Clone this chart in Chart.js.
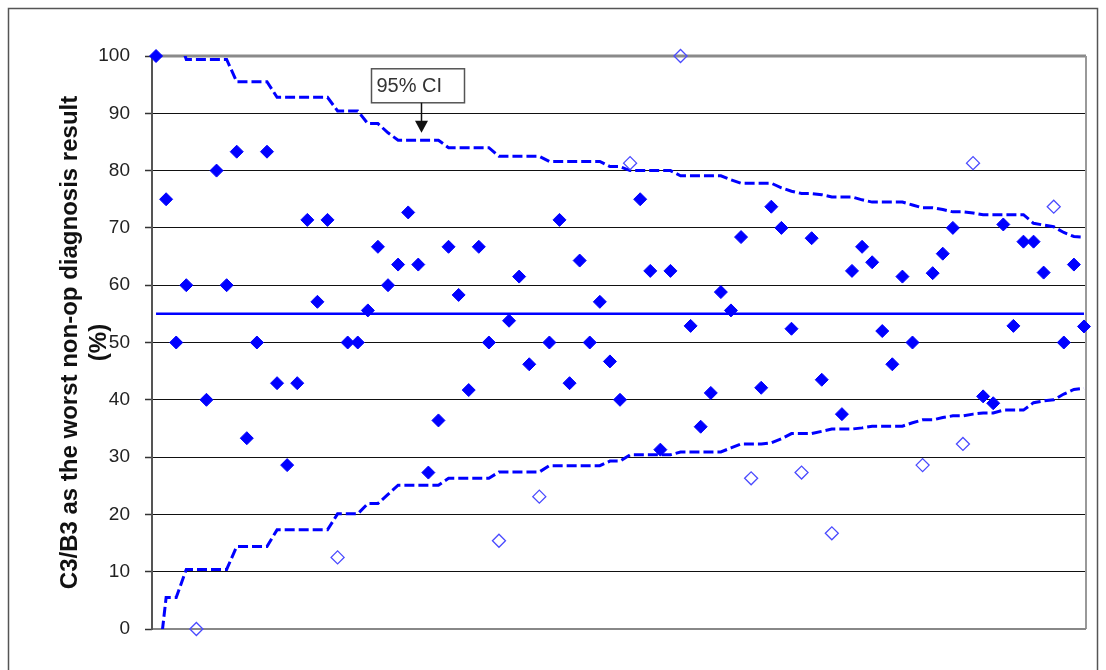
<!DOCTYPE html>
<html><head><meta charset="utf-8">
<script src="https://cdn.jsdelivr.net/npm/chart.js@4.4.1/dist/chart.umd.min.js"></script>
<style>html,body{margin:0;padding:0;background:#fff;} canvas{display:block;}</style>
</head><body>
<canvas id="c" width="1106" height="670"></canvas>
<script>
// ---- data ----
const rates = [
  100, 75, 50, 60, 0, 40, 80, 60, 83.3, 33.3,
  50, 83.3, 42.9, 28.6, 42.9, 71.4, 57.1, 71.4, 12.5, 50,
  50, 55.6, 66.7, 60, 63.6, 72.7, 63.6, 27.3, 36.4, 66.7,
  58.3, 41.7, 66.7, 50, 15.4, 53.8, 61.5, 46.2, 23.1, 50,
  71.4, 42.9, 64.3, 50, 57.1, 46.7, 40, 81.3, 75, 62.5,
  31.3, 62.5, 100, 52.9, 35.3, 41.2, 58.8, 55.6, 68.4, 26.3,
  42.1, 73.7, 70, 52.4, 27.3, 68.2, 43.5, 16.7, 37.5, 62.5,
  66.7, 64, 52, 46.2, 61.5, 50, 28.6, 62.1, 65.5, 70,
  32.3, 81.3, 40.6, 39.4, 70.6, 52.9, 67.6, 67.6, 62.2, 73.7,
  50, 63.6, 52.8
];
// indices of centres plotted as open diamonds (outside the 95% CI)
const outsideIdx = [4, 18, 34, 38, 47, 52, 59, 64, 67, 76, 80, 81, 89];
const upperCI = [
  120, 104.5, 104.5, 99.4, 99.4, 99.4, 99.4, 99.4, 95.5, 95.5,
  95.5, 95.5, 92.8, 92.8, 92.8, 92.8, 92.8, 92.8, 90.4, 90.4,
  90.4, 88.2, 88.2, 86.6, 85.3, 85.3, 85.3, 85.3, 85.3, 84.0,
  84.0, 84.0, 84.0, 84.0, 82.5, 82.5, 82.5, 82.5, 82.5, 81.6,
  81.6, 81.6, 81.6, 81.6, 81.6, 80.7, 80.7, 80.0, 80.0, 80.0,
  80.0, 80.0, 79.1, 79.1, 79.1, 79.1, 79.1, 78.4, 77.8, 77.8,
  77.8, 77.8, 77.0, 76.4, 76.0, 76.0, 75.8, 75.4, 75.4, 75.4,
  74.9, 74.5, 74.5, 74.5, 74.5, 74.0, 73.5, 73.5, 73.2, 72.8,
  72.8, 72.6, 72.3, 72.3, 72.3, 72.3, 72.3, 70.8, 70.5, 70.2,
  69.2, 68.5, 68.4
];
const lowerCI = [
  -10, 5.5, 5.5, 10.4, 10.4, 10.4, 10.4, 10.4, 14.4, 14.4,
  14.4, 14.4, 17.3, 17.3, 17.3, 17.3, 17.3, 17.3, 20.1, 20.1,
  20.1, 21.9, 21.9, 23.5, 25.1, 25.1, 25.1, 25.1, 25.1, 26.3,
  26.3, 26.3, 26.3, 26.3, 27.4, 27.4, 27.4, 27.4, 27.4, 28.5,
  28.5, 28.5, 28.5, 28.5, 28.5, 29.3, 29.3, 30.4, 30.4, 30.4,
  30.4, 30.4, 30.9, 30.9, 30.9, 30.9, 30.9, 31.6, 32.3, 32.3,
  32.3, 32.5, 33.2, 34.1, 34.1, 34.1, 34.5, 34.9, 34.9, 34.9,
  35.1, 35.4, 35.4, 35.4, 35.4, 36.0, 36.5, 36.5, 36.9, 37.2,
  37.2, 37.5, 37.7, 37.7, 38.2, 38.2, 38.2, 39.5, 39.8, 40.0,
  41.0, 41.8, 42.0
];
const meanRate = 55;
const yTicks = [0, 10, 20, 30, 40, 50, 60, 70, 80, 90, 100];
const yTitle = ['C3/B3 as the worst non-op diagnosis result', '(%)'];
const ciLabel = { text: '95% CI', index: 26.3, value: 86.6 };

// ---- build datasets ----
const pts = rates.map((v, i) => ({ x: i, y: v }));
const insidePts = pts.filter((p, i) => !outsideIdx.includes(i));
const outsidePts = pts.filter((p, i) => outsideIdx.includes(i));
const upperPts = upperCI.map((v, i) => ({ x: i, y: v }));
const lowerPts = lowerCI.map((v, i) => ({ x: i, y: v }));
const meanPts = rates.map((v, i) => ({ x: i, y: meanRate }));

const FONT = "'Liberation Sans', Arial, Helvetica, sans-serif";
Chart.defaults.font.family = FONT;

const framePlugin = {
  id: 'frame',
  beforeDatasetsDraw(chart) {
    const { ctx, chartArea: a } = chart;
    ctx.save();
    ctx.lineCap = 'butt';
    ctx.strokeStyle = '#8a8a8a';
    ctx.lineWidth = 3;
    ctx.beginPath(); ctx.moveTo(a.left, a.top); ctx.lineTo(a.right, a.top); ctx.stroke();
    ctx.lineWidth = 2;
    ctx.strokeStyle = '#999';
    ctx.beginPath(); ctx.moveTo(a.right, a.top); ctx.lineTo(a.right, a.bottom); ctx.stroke();
    ctx.strokeStyle = '#888';
    ctx.beginPath(); ctx.moveTo(a.left, a.bottom); ctx.lineTo(a.right, a.bottom); ctx.stroke();
    ctx.strokeStyle = '#555';
    ctx.beginPath(); ctx.moveTo(a.left, a.top - 1); ctx.lineTo(a.left, a.bottom + 1); ctx.stroke();
    ctx.restore();
  },
  afterDraw(chart) {
    const { ctx } = chart;
    ctx.save();
    ctx.strokeStyle = '#555';
    ctx.lineWidth = 1.5;
    ctx.strokeRect(8.5, 8.5, 1089, 700);
    // 95% CI callout
    const xs = chart.scales.x, ys = chart.scales.y;
    const tipX = Math.round(xs.getPixelForValue(ciLabel.index)) + 0.5;
    const tipY = ys.getPixelForValue(ciLabel.value);
    const boxBottom = tipY - 30, boxH = 34, boxW = 93;
    const boxLeft = tipX - 50;
    ctx.fillStyle = '#fff';
    ctx.fillRect(boxLeft, boxBottom - boxH, boxW, boxH);
    ctx.strokeStyle = '#555';
    ctx.lineWidth = 1.5;
    ctx.strokeRect(boxLeft, boxBottom - boxH, boxW, boxH);
    ctx.fillStyle = '#333';
    ctx.font = "20px " + FONT;
    ctx.textBaseline = 'middle';
    ctx.textAlign = 'left';
    ctx.fillText(ciLabel.text, boxLeft + 5, boxBottom - boxH / 2 + 1);
    ctx.strokeStyle = '#111';
    ctx.lineWidth = 1.5;
    ctx.beginPath(); ctx.moveTo(tipX, boxBottom); ctx.lineTo(tipX, tipY - 11); ctx.stroke();
    ctx.fillStyle = '#111';
    ctx.beginPath();
    ctx.moveTo(tipX - 6.5, tipY - 12); ctx.lineTo(tipX + 6.5, tipY - 12); ctx.lineTo(tipX, tipY); ctx.closePath();
    ctx.fill();
    ctx.restore();
  }
};

new Chart(document.getElementById('c'), {
  type: 'line',
  data: {
    datasets: [
      { data: insidePts, showLine: false, pointStyle: 'rectRot', pointRadius: 6.5,
        pointBackgroundColor: '#0000ff', pointBorderColor: '#0000ff', pointBorderWidth: 1, clip: false },
      { data: outsidePts, showLine: false, pointStyle: 'rectRot', pointRadius: 6.5,
        pointBackgroundColor: 'rgba(255,255,255,0)', pointBorderColor: '#4a4aff', pointBorderWidth: 1.3, clip: false },
      { data: meanPts, borderColor: '#0000ff', borderWidth: 2.5, pointRadius: 0, tension: 0, clip: 0 },
      { data: upperPts, borderColor: '#0000ff', borderWidth: 3, borderDash: [10, 4], pointRadius: 0, tension: 0, clip: 0 },
      { data: lowerPts, borderColor: '#0000ff', borderWidth: 3, borderDash: [10, 4], pointRadius: 0, tension: 0, clip: 0 }
    ]
  },
  options: {
    responsive: false,
    animation: false,
    devicePixelRatio: 1,
    layout: { padding: { left: 56, top: 56, right: 20, bottom: 41 } },
    plugins: { legend: { display: false }, tooltip: { enabled: false } },
    scales: {
      x: { type: 'linear', min: -0.4, max: 92.2, display: false },
      y: {
        type: 'linear', min: 0, max: 100,
        afterBuildTicks: s => { s.ticks = yTicks.map(v => ({ value: v })); },
        afterFit: s => { s.width = 96; },
        ticks: { padding: 15, color: '#222', font: { size: 19 } },
        grid: {
          color: c => (c.tick && (c.tick.value === 0 || c.tick.value === 100)) ? '#888' : '#111',
          lineWidth: 1, tickLength: 7, tickColor: '#333', tickWidth: 1.5
        },
        border: { display: false },
        title: { display: true, text: yTitle, color: '#111', padding: 0,
                 font: { size: 24, weight: 'bold', lineHeight: 1.2 } }
      }
    }
  },
  plugins: [framePlugin]
});
</script>
</body></html>
